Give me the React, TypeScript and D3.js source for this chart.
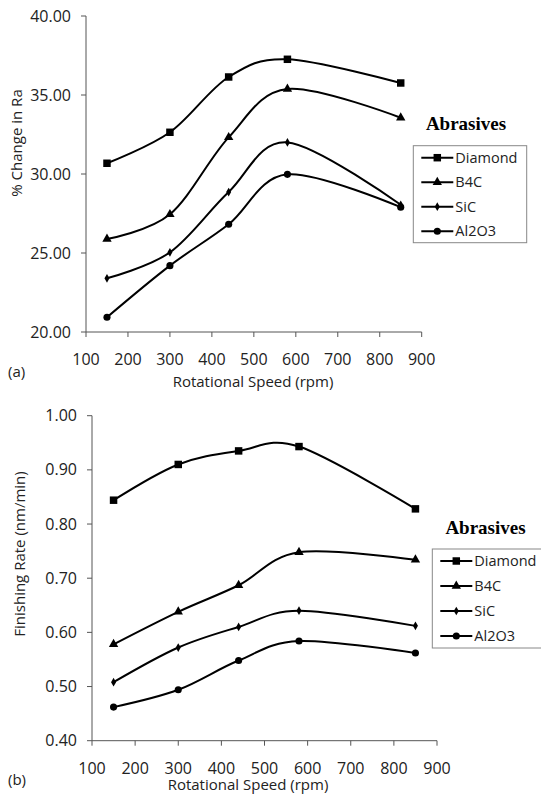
import React from 'react'
import * as d3 from 'd3'

const speeds = [150, 300, 440, 580, 850]
const abrasives = ['Diamond', 'B4C', 'SiC', 'Al2O3']

// (a) % change in Ra
const raDiamond = [30.68, 32.64, 36.14, 37.26, 35.76]
const raB4C = [25.89, 27.45, 32.32, 35.38, 33.56]
const raSiC = [23.4, 25.04, 28.86, 32.0, 28.05]
const raAl2O3 = [20.93, 24.2, 26.82, 29.98, 27.9]

// (b) finishing rate
const frDiamond = [0.844, 0.91, 0.935, 0.943, 0.828]
const frB4C = [0.578, 0.638, 0.687, 0.748, 0.734]
const frSiC = [0.508, 0.572, 0.61, 0.64, 0.612]
const frAl2O3 = [0.462, 0.494, 0.548, 0.584, 0.562]

const xTicks = [100, 200, 300, 400, 500, 600, 700, 800, 900]
const raTicks = [20, 25, 30, 35, 40]
const frTicks = [0.4, 0.5, 0.6, 0.7, 0.8, 0.9, 1.0]

const font = "'Open Sans', sans-serif"
const symbols = [d3.symbolSquare, d3.symbolTriangle, d3.symbolDiamond, d3.symbolCircle]
const symbolSizes = [56, 38, 22, 40]

const marker = (i: number) => d3.symbol().type(symbols[i]).size(symbolSizes[i])()

type PanelProps = {
  series: number[][]
  xRange: [number, number]
  yDomain: [number, number]
  yRange: [number, number]
  yTicks: number[]
  yTitle: string
  yTitleX: number
  yTitleY: number
  tag: string
  xTitleX: number
  xTitleDy: number
  legendX: number
  legendY: number
  legendW: number
  legendStep: number
  headX: number
  headY: number
}

function Panel(p: PanelProps) {
  const x = d3.scaleLinear().domain([100, 900]).range(p.xRange)
  const y = d3.scaleLinear().domain(p.yDomain).range(p.yRange)
  const fmt = d3.format('.2f')
  const line = d3
    .line<number>()
    .x((d, i) => x(speeds[i]))
    .y(d => y(d))
    .curve(d3.curveCardinal.tension(0))
  const x0 = p.xRange[0]
  const yBase = p.yRange[0]
  const yTop = p.yRange[1]

  return (
    <g>
      {/* axes */}
      <line x1={x0} x2={x0} y1={yTop} y2={yBase} stroke='#555' strokeWidth={1} />
      <line x1={x0} x2={p.xRange[1]} y1={yBase} y2={yBase} stroke='#555' strokeWidth={1} />
      {p.yTicks.map(t => (
        <g key={t}>
          <line x1={x0 - 5} x2={x0} y1={y(t)} y2={y(t)} stroke='#555' />
          <text x={x0 - 15} y={y(t)} dy='.35em' textAnchor='end' fontSize={16}
            fontFamily={font} fill='#222'>
            {fmt(t)}
          </text>
        </g>
      ))}
      {xTicks.map(t => (
        <g key={t}>
          <line x1={x(t)} x2={x(t)} y1={yBase} y2={yBase + 5} stroke='#555' />
          <text x={x(t)} y={yBase + 27.5} dy='.35em' textAnchor='middle' fontSize={16}
            fontFamily={font} fill='#222'>
            {t}
          </text>
        </g>
      ))}
      <text x={8} y={yBase + 39.5} dy='.35em' fontSize={15} fontFamily={font} fill='#222'>
        {p.tag}
      </text>
      <text x={p.xTitleX} y={yBase + p.xTitleDy} dy='.35em' textAnchor='middle' fontSize={15}
        fontFamily={font} fill='#222'>
        Rotational Speed (rpm)
      </text>
      <text transform={`translate(${p.yTitleX},${p.yTitleY}) rotate(-90)`} dy='.35em'
        textAnchor='middle' fontSize={15} fontFamily={font} fill='#222'>
        {p.yTitle}
      </text>

      {/* series */}
      {p.series.map((s, si) => (
        <g key={si}>
          <path d={line(s) || ''} fill='none' stroke='#000' strokeWidth={2} />
          {s.map((v, i) => (
            <path key={i} d={marker(si) || ''} transform={`translate(${x(speeds[i])},${y(v)})`}
              fill='#000' />
          ))}
        </g>
      ))}

      {/* legend */}
      <text x={p.headX} y={p.headY} textAnchor='middle' fontSize={19} fontWeight='bold'
        fontFamily="'Liberation Serif', 'Times New Roman', serif" fill='#000'>
        Abrasives
      </text>
      <rect x={p.legendX} y={p.legendY} width={p.legendW} height={p.legendStep * 4 - 1}
        fill='#fff' stroke='#888' strokeWidth={1} />
      {abrasives.map((name, i) => {
        const ly = p.legendY + 12 + i * p.legendStep
        return (
          <g key={name}>
            <line x1={p.legendX + 8} x2={p.legendX + 40} y1={ly} y2={ly} stroke='#000'
              strokeWidth={2} />
            <path d={marker(i) || ''} transform={`translate(${p.legendX + 24},${ly})`}
              fill='#000' />
            <text x={p.legendX + 42} y={ly} dy='.35em' fontSize={14.5} fontFamily={font}
              fill='#222'>
              {name}
            </text>
          </g>
        )
      })}
    </g>
  )
}

export default function App() {
  return (
    <svg width={541} height={796} style={{ position: 'absolute', left: 0, top: 0 }}
      fill='#000'>
      <rect width={541} height={796} fill='#fff' />
      <Panel
        series={[raDiamond, raB4C, raSiC, raAl2O3]}
        xRange={[86, 421.7]}
        yDomain={[20, 40]}
        yRange={[332, 16]}
        yTicks={raTicks}
        yTitle='% Change in Ra'
        yTitleX={17}
        yTitleY={143}
        tag='(a)'
        xTitleX={253}
        xTitleDy={49.5}
        legendX={413.3}
        legendY={145.7}
        legendW={113.4}
        legendStep={24.5}
        headX={466}
        headY={130}
      />
      <Panel
        series={[frDiamond, frB4C, frSiC, frAl2O3]}
        xRange={[92, 437]}
        yDomain={[0.4, 1.0]}
        yRange={[740.7, 415.7]}
        yTicks={frTicks}
        yTitle='Finishing Rate (nm/min)'
        yTitleX={20}
        yTitleY={554}
        tag='(b)'
        xTitleX={248}
        xTitleDy={44}
        legendX={432.3}
        legendY={549}
        legendW={113}
        legendStep={25}
        headX={485.5}
        headY={534}
      />
    </svg>
  )
}
